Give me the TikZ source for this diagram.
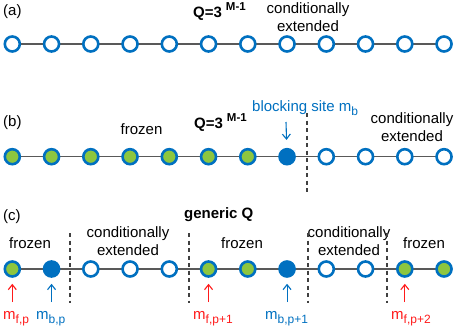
\documentclass[tikz,border=0pt]{standalone}
\usepackage{fontspec}
\setmainfont{Liberation Sans}
\usepackage{tikz}
\usetikzlibrary{arrows.meta,backgrounds}
\definecolor{SiteBlue}{HTML}{0070C0}
\definecolor{FrozenGreen}{HTML}{8DC63F}
\definecolor{MarkRed}{HTML}{FF1A1A}
\definecolor{ChainGray}{HTML}{595959}
\definecolor{CutGray}{HTML}{404040}
\newcommand{\lowidx}[1]{\raisebox{-4pt}{\fontsize{12}{13}\selectfont #1}}
\newcommand{\highidx}[1]{\hspace{4pt}\raisebox{7pt}{\fontsize{11.5}{12}\selectfont #1}}

\begin{document}
\begin{tikzpicture}[x=1pt,y=-1pt,
          font=\fontsize{15}{18}\selectfont,
          site/.style={circle,draw=SiteBlue,fill=white,line width=2.6pt,
                       inner sep=0pt,minimum size=15pt},
          frz/.style={site,fill=FrozenGreen},
          blk/.style={site,fill=SiteBlue},
          link/.style={ChainGray,line width=1.5pt},
          cut/.style={CutGray,line width=1.2pt,dash pattern=on 4pt off 3.5pt},
          txt/.style={inner sep=0pt},
          arrR/.style={MarkRed,line width=1.1pt,-{Straight Barb[length=5pt,width=8pt]},shorten >=6pt},
          arrB/.style={SiteBlue,line width=1.1pt,-{Straight Barb[length=5pt,width=8pt]},shorten >=6pt}]
        \useasboundingbox (0,0) rectangle (457,329);
        % chains
        \foreach \i in {0,...,11}
          \node[site] (a\i) at (12.3+39.25*\i, 44) {};
        \foreach \s [count=\i from 0] in {frz,frz,frz,frz,frz,frz,frz,blk,site,site,site,site}
          \node[\s] (b\i) at (12.3+39.25*\i, 156.7) {};
        \foreach \s [count=\i from 0] in {frz,blk,site,site,site,frz,frz,blk,site,site,frz,frz}
          \node[\s] (c\i) at (12.3+39.25*\i, 269) {};
        \begin{scope}[on background layer]
          \foreach \row in {a,b,c}
            \draw[link] (\row0.center) -- (\row11.center);
        \end{scope}
        % (a)
        \node[txt,anchor=west] (pa) at (3,12) {(a)};
        \node[txt,anchor=base west] (qa) at (193,18) {\bfseries Q=3\highidx{M-1}};
        \node[txt,align=center] (ea) at (308,17) {conditionally\\extended};
        % (b)
        \node[txt,anchor=west] (pb) at (3,123) {(b)};
        \node[txt] (fb) at (141.5,129) {frozen};
        \node[txt,anchor=base west] (qb) at (194,128) {\bfseries Q=3\highidx{M-1}};
        \node[txt,anchor=base west,text=SiteBlue] (mb) at (252,111) {blocking site m\lowidx{b}};
        \node[txt,align=center] (eb) at (412,127) {conditionally\\extended};
        \coordinate (tb) at (286,122);
        \draw[arrB,shorten >=8pt] (tb) -- (b7);
        \draw[cut] (307,113) -- (307,192);
        % (c)
        \node[txt,anchor=west] (pc) at (3,217) {(c)};
        \node[txt,anchor=base west] (qc) at (184,218) {\bfseries generic Q};
        \node[txt] (fc1) at (30,243) {frozen};
        \node[txt,align=center] (ec1) at (128,241) {conditionally\\extended};
        \node[txt] (fc2) at (242,243) {frozen};
        \node[txt,align=center] (ec2) at (349,241) {conditionally\\extended};
        \node[txt] (fc3) at (424,243) {frozen};
        \foreach \x in {70,189,308,387}
          \draw[cut] (\x,233) -- (\x,303);
        \foreach \n/\k/\c in {tfp/0/arrR,tbp/1/arrB,tfq/5/arrR,tbq/7/arrB,tfr/10/arrR} {
          \coordinate (\n) at (12.3+39.25*\k, 302);
          \draw[\c] (\n) -- (c\k);
        }
        \node[txt,anchor=base west,text=MarkRed] (lfp) at (3,319) {m\lowidx{f,p}};
        \node[txt,anchor=base west,text=SiteBlue] (lbp) at (36,319) {m\lowidx{b,p}};
        \node[txt,anchor=base west,text=MarkRed] (lfq) at (193,319) {m\lowidx{f,p+1}};
        \node[txt,anchor=base west,text=SiteBlue] (lbq) at (265,319) {m\lowidx{b,p+1}};
        \node[txt,anchor=base west,text=MarkRed] (lfr) at (391,319) {m\lowidx{f,p+2}};
      \end{tikzpicture}
\end{document}
